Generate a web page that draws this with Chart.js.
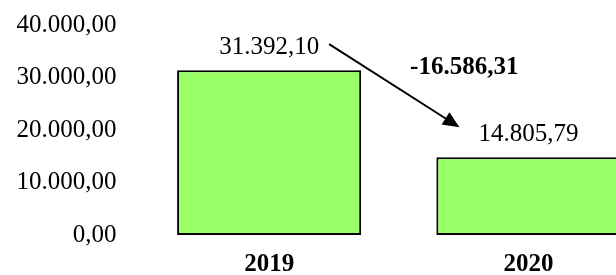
<!DOCTYPE html>
<html>
<head>
<meta charset="utf-8">
<script src="https://cdn.jsdelivr.net/npm/chart.js@4"></script>
<style>
  html, body { margin: 0; padding: 0; background: #fff; overflow: hidden; }
  #wrap { width: 616px; height: 275px; overflow: hidden; position: relative; }
  #box { width: 658px; height: 275px; }
</style>
</head>
<body>
<div id="wrap"><div id="box"><canvas id="barChart"></canvas></div></div>
<script>
const years = ["2019", "2020"];
const amounts = [31392.10, 14805.79];
const yTicks = [0, 10000, 20000, 30000, 40000];

const serif = "'Liberation Serif', 'Times New Roman', serif";

// 1234.5 -> "1.234,50"
function fmt(v) {
  const neg = v < 0;
  const parts = Math.abs(v).toFixed(2).split(".");
  const int = parts[0].replace(/\B(?=(\d{3})+(?!\d))/g, ".");
  return (neg ? "-" : "") + int + "," + parts[1];
}

const labelsPlugin = {
  id: "labelsPlugin",
  afterDatasetsDraw(chart) {
    const ctx = chart.ctx;
    const bars = chart.getDatasetMeta(0).data;
    ctx.save();
    ctx.fillStyle = "#000";
    ctx.font = "25px " + serif;
    ctx.textAlign = "center";
    ctx.textBaseline = "middle";
    const widths = [];
    bars.forEach(function (bar, i) {
      const txt = fmt(amounts[i]);
      widths.push(ctx.measureText(txt).width);
      ctx.fillText(txt, bar.x, bar.y - 23);
    });

    // arrow from first value label to second
    const x1 = bars[0].x + widths[0] / 2 + 10;
    const y1 = bars[0].y - 26;
    const x2 = bars[1].x - widths[1] / 2 - 19;
    const y2 = bars[1].y - 30;
    const ang = Math.atan2(y2 - y1, x2 - x1);
    const headLen = 18;
    ctx.strokeStyle = "#000";
    ctx.lineWidth = 2;
    ctx.beginPath();
    ctx.moveTo(x1, y1);
    ctx.lineTo(x2 - headLen * 0.8 * Math.cos(ang), y2 - headLen * 0.8 * Math.sin(ang));
    ctx.stroke();
    ctx.beginPath();
    ctx.moveTo(x2, y2);
    ctx.lineTo(x2 - headLen * Math.cos(ang - 0.42), y2 - headLen * Math.sin(ang - 0.42));
    ctx.lineTo(x2 - headLen * Math.cos(ang + 0.42), y2 - headLen * Math.sin(ang + 0.42));
    ctx.closePath();
    ctx.fill();

    // difference label
    ctx.font = "bold 25px " + serif;
    ctx.fillText(fmt(amounts[1] - amounts[0]), (x1 + x2) / 2 + 70, y1 + 23);
    ctx.restore();
  },
};

const chartData = {
  labels: years,
  datasets: [
    {
      label: "amount",
      data: amounts,
      backgroundColor: "#99FF66",
      borderColor: "#000",
      borderWidth: 2,
      borderSkipped: false,
      barPercentage: 0.71,
      categoryPercentage: 1,
    },
  ],
};

new Chart(document.getElementById("barChart"), {
  type: "bar",
  data: chartData,
  plugins: [labelsPlugin],
  options: {
    responsive: true,
    maintainAspectRatio: false,
    animation: false,
    layout: { padding: { top: 25, right: 0, bottom: 0, left: 0 } },
    plugins: {
      legend: { display: false },
      tooltip: { enabled: false },
    },
    scales: {
      x: {
        grid: { display: false, drawTicks: false },
        border: { display: false },
        ticks: {
          color: "#000",
          padding: 15,
          font: { family: serif, size: 25, weight: "bold" },
        },
        afterFit(scale) {
          scale.height = 40;
        },
      },
      y: {
        min: 0,
        max: 40000,
        grid: { display: false, drawTicks: false },
        border: { display: false },
        afterBuildTicks(scale) {
          scale.ticks = yTicks.map(function (v) { return { value: v }; });
        },
        ticks: {
          color: "#000",
          padding: 23,
          font: { family: serif, size: 25 },
          callback: function (v) { return fmt(v); },
        },
        afterFit(scale) {
          scale.width = 139.5;
          scale.paddingTop = 0;
          scale.paddingBottom = 0;
        },
      },
    },
  },
});
</script>
</body>
</html>
